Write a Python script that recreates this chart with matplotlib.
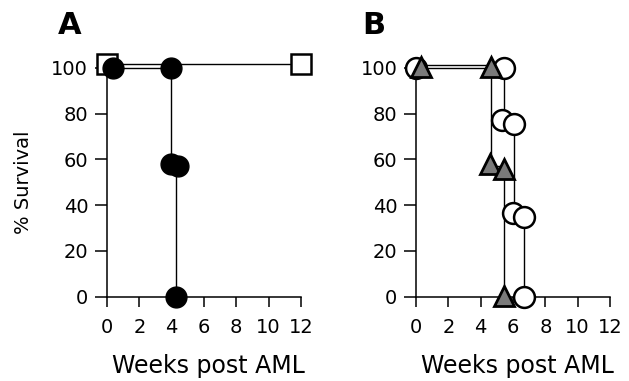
import numpy as np
import matplotlib
matplotlib.use("Agg")
import matplotlib.pyplot as plt

plt.rcParams['font.family'] = ['DejaVu Sans']

# panel A - control (open squares)
a_ctrl_x = [0, 12]
a_ctrl_y = [101.5, 101.5]
# panel A - treated (filled circles): markers and step curve
a_trt_mx = [0.4, 3.95, 3.95, 4.4, 4.3]
a_trt_my = [100, 100, 58, 57, 0]
a_trt_sx = [0, 3.95, 4.27]
a_trt_sy = [100, 57.5, 0]

# panel B - open circles
b_circ_mx = [0, 5.43, 5.33, 6.05, 6.0, 6.7, 6.7]
b_circ_my = [100, 100, 77, 75.5, 36.5, 35, 0]
b_circ_sx = [0, 5.43, 6.05, 6.7]
b_circ_sy = [100, 76, 36, 0]
# panel B - grey triangles
b_tri_mx = [0.3, 4.66, 4.6, 5.43, 5.47]
b_tri_my = [100.5, 100.5, 58, 55.7, 0.5]
b_tri_sx = [0.3, 4.66, 5.45]
b_tri_sy = [101.2, 57, 0]

xticks = [0, 2, 4, 6, 8, 10, 12]
yticks = [0, 20, 40, 60, 80, 100]

fig = plt.figure(figsize=(6.29, 3.81), dpi=100)
axA = fig.add_axes([0.1701, 0.2213, 0.3238, 0.637])
axB = fig.add_axes([0.6614, 0.2213, 0.3238, 0.637])

for ax in (axA, axB):
    ax.set_xlim(0, 12.6)
    ax.set_ylim(0, 106)
    ax.spines['top'].set_visible(False)
    ax.spines['right'].set_visible(False)
    ax.spines['left'].set_bounds(0, 100)
    ax.spines['bottom'].set_bounds(0, 12)
    ax.spines['left'].set_linewidth(1.1)
    ax.spines['bottom'].set_linewidth(1.1)
    ax.set_xticks(xticks)
    ax.set_yticks(yticks)
    ax.tick_params(axis='y', direction='out', length=8.5, width=1.1, pad=5, labelsize=14)
    ax.tick_params(axis='x', direction='out', length=7.5, width=1.1, pad=8, labelsize=14)
    ax.set_xlabel('Weeks post AML', fontsize=17, labelpad=12)

axA.set_ylabel('% Survival', fontsize=14)
axA.yaxis.set_label_coords(-0.365, 0.47)

# panel A
axA.plot(a_ctrl_x, a_ctrl_y, color='black', lw=1, marker='s', ms=14,
         mfc='white', mec='black', mew=1.8, zorder=3, clip_on=False)
axA.step(a_trt_sx, a_trt_sy, where='post', color='black', lw=1, zorder=2)
axA.plot(a_trt_mx, a_trt_my, ls='none', marker='o', ms=15, mfc='black',
         mec='black', zorder=4, clip_on=False)

# panel B
axB.step(b_circ_sx, b_circ_sy, where='post', color='black', lw=1, zorder=2)
axB.plot(b_circ_mx, b_circ_my, ls='none', marker='o', ms=15, mfc='white',
         mec='black', mew=1.8, zorder=3, clip_on=False)
axB.step(b_tri_sx, b_tri_sy, where='post', color='black', lw=1, zorder=2)
axB.plot(b_tri_mx, b_tri_my, ls='none', marker='^', ms=14, mfc='#7a7a7a',
         mec='black', mew=2, zorder=4, clip_on=False)

fig.text(58 / 629, 1 - 34 / 381, 'A', fontsize=22, fontweight='bold', va='baseline')
fig.text(362 / 629, 1 - 34 / 381, 'B', fontsize=22, fontweight='bold', va='baseline')

fig.savefig('out.png', dpi=100, facecolor='white')
